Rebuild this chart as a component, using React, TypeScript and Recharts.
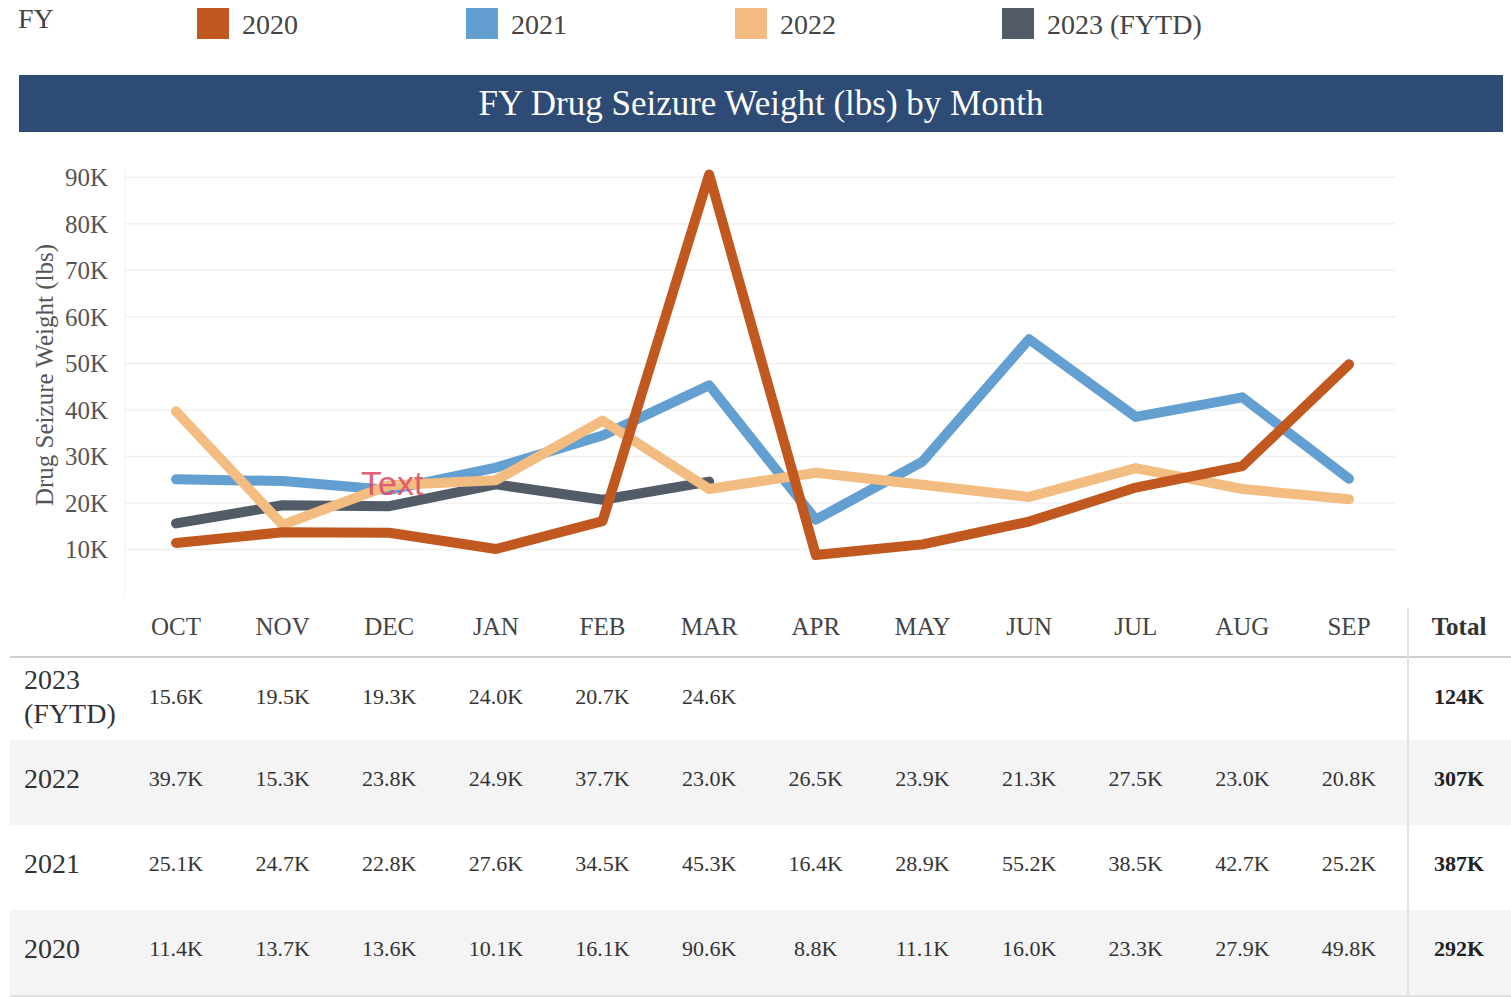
import React from "react";
import { LineChart, Line, XAxis, YAxis, CartesianGrid } from "recharts";

const months = ["OCT", "NOV", "DEC", "JAN", "FEB", "MAR", "APR", "MAY", "JUN", "JUL", "AUG", "SEP"];
const fy2020 = [11400, 13700, 13600, 10100, 16100, 90600, 8800, 11100, 16000, 23300, 27900, 49800];
const fy2021 = [25100, 24700, 22800, 27600, 34500, 45300, 16400, 28900, 55200, 38500, 42700, 25200];
const fy2022 = [39700, 15300, 23800, 24900, 37700, 23000, 26500, 23900, 21300, 27500, 23000, 20800];
const fy2023 = [15600, 19500, 19300, 24000, 20700, 24600, null, null, null, null, null, null];
const yTicks = [10000, 20000, 30000, 40000, 50000, 60000, 70000, 80000, 90000];

const series = [
  { key: "y2023", name: "2023 (FYTD)", color: "#535b69", values: fy2023 },
  { key: "y2021", name: "2021", color: "#649fd2", values: fy2021 },
  { key: "y2022", name: "2022", color: "#f3bd82", values: fy2022 },
  { key: "y2020", name: "2020", color: "#c0581f", values: fy2020 },
];
const legendOrder = ["y2020", "y2021", "y2022", "y2023"];
const tableOrder = [
  { key: "y2023", label: ["2023", "(FYTD)"] },
  { key: "y2022", label: ["2022"] },
  { key: "y2021", label: ["2021"] },
  { key: "y2020", label: ["2020"] },
];

const data = months.map((m, i) => ({
  month: m,
  y2020: fy2020[i],
  y2021: fy2021[i],
  y2022: fy2022[i],
  y2023: fy2023[i],
}));

const FONT = "'Liberation Serif', 'Times New Roman', serif";
const PLOT_LEFT = 125;
const PAD_L = 51;
const PAD_R = 46;
const PLOT_RIGHT = 1395;
const step = (PLOT_RIGHT - PLOT_LEFT - PAD_L - PAD_R) / (months.length - 1);
const colX = (i: number) => PLOT_LEFT + PAD_L + i * step;

const fmtK = (v: number) => (v / 1000).toFixed(1) + "K";
const fmtAxis = (v: number) => Math.round(v / 1000) + "K";

const legendX = [197, 466, 735, 1002];

export default function App() {
  const seriesByKey: Record<string, any> = {};
  series.forEach((s) => (seriesByKey[s.key] = s));
  const rowTops = [658, 740, 825, 910];
  const rowH = 85;
  return (
    <div style={{ position: "absolute", left: 0, top: 0, width: 1511, height: 997, background: "#fff", fontFamily: FONT, overflow: "hidden" }}>
      {/* Legend */}
      <div style={{ position: "absolute", left: 18, top: 3, fontSize: 28, color: "#444" }}>FY</div>
      {legendOrder.map((k, i) => (
        <React.Fragment key={k}>
          <div style={{ position: "absolute", left: legendX[i], top: 8, width: 32, height: 31, background: seriesByKey[k].color }} />
          <div style={{ position: "absolute", left: legendX[i] + 45, top: 8, fontSize: 28, color: "#444", lineHeight: "33px" }}>{seriesByKey[k].name}</div>
        </React.Fragment>
      ))}
      {/* Title bar */}
      <div style={{ position: "absolute", left: 19, top: 75, width: 1484, height: 57, background: "#2d4b74", color: "#fff", fontSize: 35, lineHeight: "57px", textAlign: "center" }}>
        FY Drug Seizure Weight (lbs) by Month
      </div>
      {/* Y axis title */}
      <div style={{ position: "absolute", left: 45, top: 375, transform: "translate(-50%, -50%) rotate(-90deg)", whiteSpace: "nowrap", fontSize: 25, color: "#555" }}>
        Drug Seizure Weight (lbs)
      </div>
      {/* Chart */}
      <div style={{ position: "absolute", left: 0, top: 150 }}>
        <LineChart width={1511} height={460} data={data} margin={{ top: 18, right: 1511 - PLOT_RIGHT, bottom: 14, left: 0 }}>
          <CartesianGrid vertical={false} stroke="#f0f0f0" strokeWidth={1.5} horizontalValues={yTicks} />
          <XAxis dataKey="month" hide padding={{ left: PAD_L, right: PAD_R }} />
          <YAxis
            width={PLOT_LEFT}
            domain={[0, 92000]}
            ticks={yTicks}
            tickFormatter={fmtAxis}
            tickLine={false}
            tickSize={0}
            tickMargin={17}
            axisLine={{ stroke: "#f2f2f2" }}
            tick={{ fontSize: 25, fill: "#555", fontFamily: FONT }}
            interval={0}
          />
          {series.map((s) => (
            <Line
              key={s.key}
              type="linear"
              dataKey={s.key}
              name={s.name}
              stroke={s.color}
              strokeWidth={10}
              dot={false}
              activeDot={false}
              strokeLinecap="round"
              strokeLinejoin="round"
              connectNulls={false}
              isAnimationActive={false}
            />
          ))}
        </LineChart>
      </div>
      {/* Stray annotation */}
      <div style={{ position: "absolute", left: 361, top: 464, fontFamily: "'Liberation Sans', Arial, sans-serif", fontSize: 34, color: "#e0506c", opacity: 0.9 }}>Text</div>
      {/* Table */}
      {tableOrder.map((r, ri) => (
        <div key={r.key} style={{ position: "absolute", left: 10, top: rowTops[ri], width: 1501, height: rowH, background: ri % 2 === 1 ? "#f4f4f4" : "#fff" }} />
      ))}
      <div style={{ position: "absolute", left: 10, top: 656, width: 1501, height: 2, background: "#cfcfcf" }} />
      <div style={{ position: "absolute", left: 10, top: 995, width: 1501, height: 2, background: "#e0e0e0" }} />
      <div style={{ position: "absolute", left: 1407, top: 608, width: 2, height: 389, background: "#e2e2e2" }} />
      {months.map((m, i) => (
        <div key={m} style={{ position: "absolute", left: colX(i) - 50, width: 100, top: 613, textAlign: "center", fontSize: 25, color: "#444" }}>{m}</div>
      ))}
      <div style={{ position: "absolute", left: 1409, width: 100, top: 613, textAlign: "center", fontSize: 25, color: "#333", fontWeight: "bold" }}>Total</div>
      {tableOrder.map((r, ri) => {
        const vals: (number | null)[] = seriesByKey[r.key].values;
        const total = vals.reduce((a: number, v) => a + (v ?? 0), 0);
        const cy = rowTops[ri] + rowH / 2 - 4;
        return (
          <React.Fragment key={r.key}>
            <div style={{ position: "absolute", left: 24, top: cy, transform: "translateY(-50%)", fontSize: 28, color: "#333", lineHeight: "34px" }}>
              {r.label.map((l) => (
                <div key={l}>{l}</div>
              ))}
            </div>
            {vals.map((v, i) =>
              v == null ? null : (
                <div key={i} style={{ position: "absolute", left: colX(i) - 55, width: 110, top: cy - 13, textAlign: "center", fontSize: 22, color: "#333" }}>{fmtK(v)}</div>
              )
            )}
            <div style={{ position: "absolute", left: 1409, width: 100, top: cy - 13, textAlign: "center", fontSize: 22, color: "#222", fontWeight: "bold" }}>{Math.round(total / 1000) + "K"}</div>
          </React.Fragment>
        );
      })}
    </div>
  );
}
